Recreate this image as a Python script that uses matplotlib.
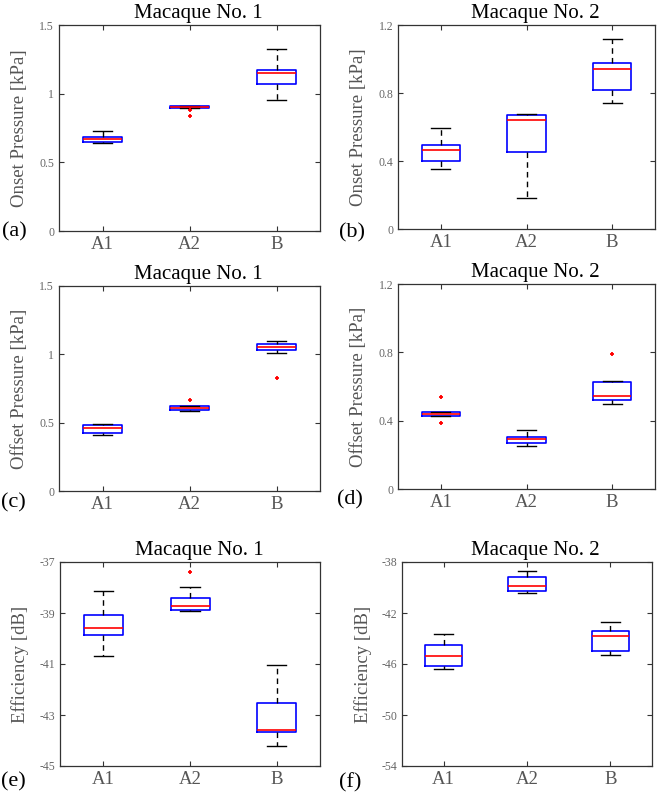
import matplotlib
matplotlib.use("Agg")
import matplotlib.pyplot as plt

plt.rcParams['font.family'] = ['Liberation Serif', 'DejaVu Serif']
plt.rcParams['axes.unicode_minus'] = False

groups = ['A1', 'A2', 'B']

# box stats per panel: whislo, q1, med, q3, whishi, fliers
onset_m1 = dict(lo=[0.638, 0.898, 0.954], q1=[0.650, 0.898, 1.070], med=[0.667, 0.905, 1.148],
                q3=[0.687, 0.913, 1.172], hi=[0.731, 0.913, 1.323],
                fl=[[], [0.881, 0.837], []])
onset_m2 = dict(lo=[0.354, 0.180, 0.744], q1=[0.401, 0.452, 0.816], med=[0.466, 0.642, 0.942],
                q3=[0.495, 0.671, 0.979], hi=[0.593, 0.677, 1.118],
                fl=[[], [], []])
offset_m1 = dict(lo=[0.410, 0.588, 1.010], q1=[0.427, 0.595, 1.032], med=[0.459, 0.607, 1.054],
                 q3=[0.480, 0.622, 1.073], hi=[0.490, 0.624, 1.100],
                 fl=[[], [0.666], [0.827]])
offset_m2 = dict(lo=[0.428, 0.254, 0.496], q1=[0.430, 0.270, 0.520], med=[0.440, 0.291, 0.543],
                 q3=[0.449, 0.307, 0.625], hi=[0.453, 0.344, 0.635],
                 fl=[[0.541, 0.385], [], [0.791]])
eff_m1 = dict(lo=[-40.70, -38.92, -44.23], q1=[-39.87, -38.87, -43.66], med=[-39.59, -38.72, -43.57],
              q3=[-39.08, -38.40, -42.51], hi=[-38.15, -37.97, -41.03],
              fl=[[], [-37.39], []])
eff_m2 = dict(lo=[-46.41, -40.43, -45.26], q1=[-46.17, -40.27, -45.00], med=[-45.36, -39.85, -43.80],
              q3=[-44.50, -39.17, -43.38], hi=[-43.66, -38.68, -42.73],
              fl=[[], [], []])

panels = [
    ('(a)', 'Macaque No. 1', 'Onset Pressure [kPa]', onset_m1, (0, 1.5), [0, 0.5, 1, 1.5], ['0', '0.5', '1', '1.5']),
    ('(b)', 'Macaque No. 2', 'Onset Pressure [kPa]', onset_m2, (0, 1.2), [0, 0.4, 0.8, 1.2], ['0', '0.4', '0.8', '1.2']),
    ('(c)', 'Macaque No. 1', 'Offset Pressure [kPa]', offset_m1, (0, 1.5), [0, 0.5, 1, 1.5], ['0', '0.5', '1', '1.5']),
    ('(d)', 'Macaque No. 2', 'Offset Pressure [kPa]', offset_m2, (0, 1.2), [0, 0.4, 0.8, 1.2], ['0', '0.4', '0.8', '1.2']),
    ('(e)', 'Macaque No. 1', 'Efficiency [dB]', eff_m1, (-45, -37), [-45, -43, -41, -39, -37], None),
    ('(f)', 'Macaque No. 2', 'Efficiency [dB]', eff_m2, (-54, -38), [-54, -50, -46, -42, -38], None),
]

W, H = 661, 798
# axes rectangles in pixels: left, top, right, bottom
rects = [(59, 25, 320, 231), (398, 25, 655, 229),
         (59, 286, 320, 491), (398, 284, 655, 489),
         (60, 562, 320, 766), (402, 562, 652, 766)]
label_pos = [(14, 232), (352, 233), (13, 503), (350, 500), (13, 782), (350, 783)]

fig = plt.figure(figsize=(W / 100, H / 100), dpi=100)

for (lab, title, ylab, d, ylim, yt, ytl), (l, t, r, b), (lx, ly) in zip(panels, rects, label_pos):
    ax = fig.add_axes([l / W, 1 - b / H, (r - l) / W, (b - t) / H])
    stats = []
    for i, g in enumerate(groups):
        stats.append(dict(label=g, whislo=d['lo'][i], q1=d['q1'][i], med=d['med'][i],
                          q3=d['q3'][i], whishi=d['hi'][i], fliers=d['fl'][i]))
    ax.bxp(stats, positions=[1, 2, 3], widths=0.45, showfliers=True,
           boxprops=dict(color='blue', linewidth=1.2),
           medianprops=dict(color='red', linewidth=1.2),
           whiskerprops=dict(color='black', linestyle=(0, (4, 3)), linewidth=1.0),
           capprops=dict(color='black', linewidth=1.0),
           flierprops=dict(marker='+', markeredgecolor='red', markersize=3, markeredgewidth=1.3))
    ax.set_xlim(0.5, 3.5)
    ax.set_ylim(*ylim)
    ax.set_yticks(yt)
    if ytl:
        ax.set_yticklabels(ytl)
    ax.set_xticks([1, 2, 3])
    ax.set_xticklabels(groups, fontsize=13.5, color='#555555')
    ax.tick_params(axis='y', labelsize=8.5, labelcolor='#666666')
    ax.tick_params(direction='in', length=3.5, width=0.8, color='#333333',
                   top=True, right=True)
    for s in ax.spines.values():
        s.set_color('#333333')
        s.set_linewidth(0.9)
    ax.set_ylabel(ylab, fontsize=13.5, color='#555555')
    ax.yaxis.set_label_coords(-0.12, 0.5)
    ax.set_title(title, fontsize=15, x=0.535, pad=5)
    fig.text(lx / W, 1 - ly / H, lab, fontsize=16, ha='center', va='center')

fig.savefig('out.png', dpi=100)
